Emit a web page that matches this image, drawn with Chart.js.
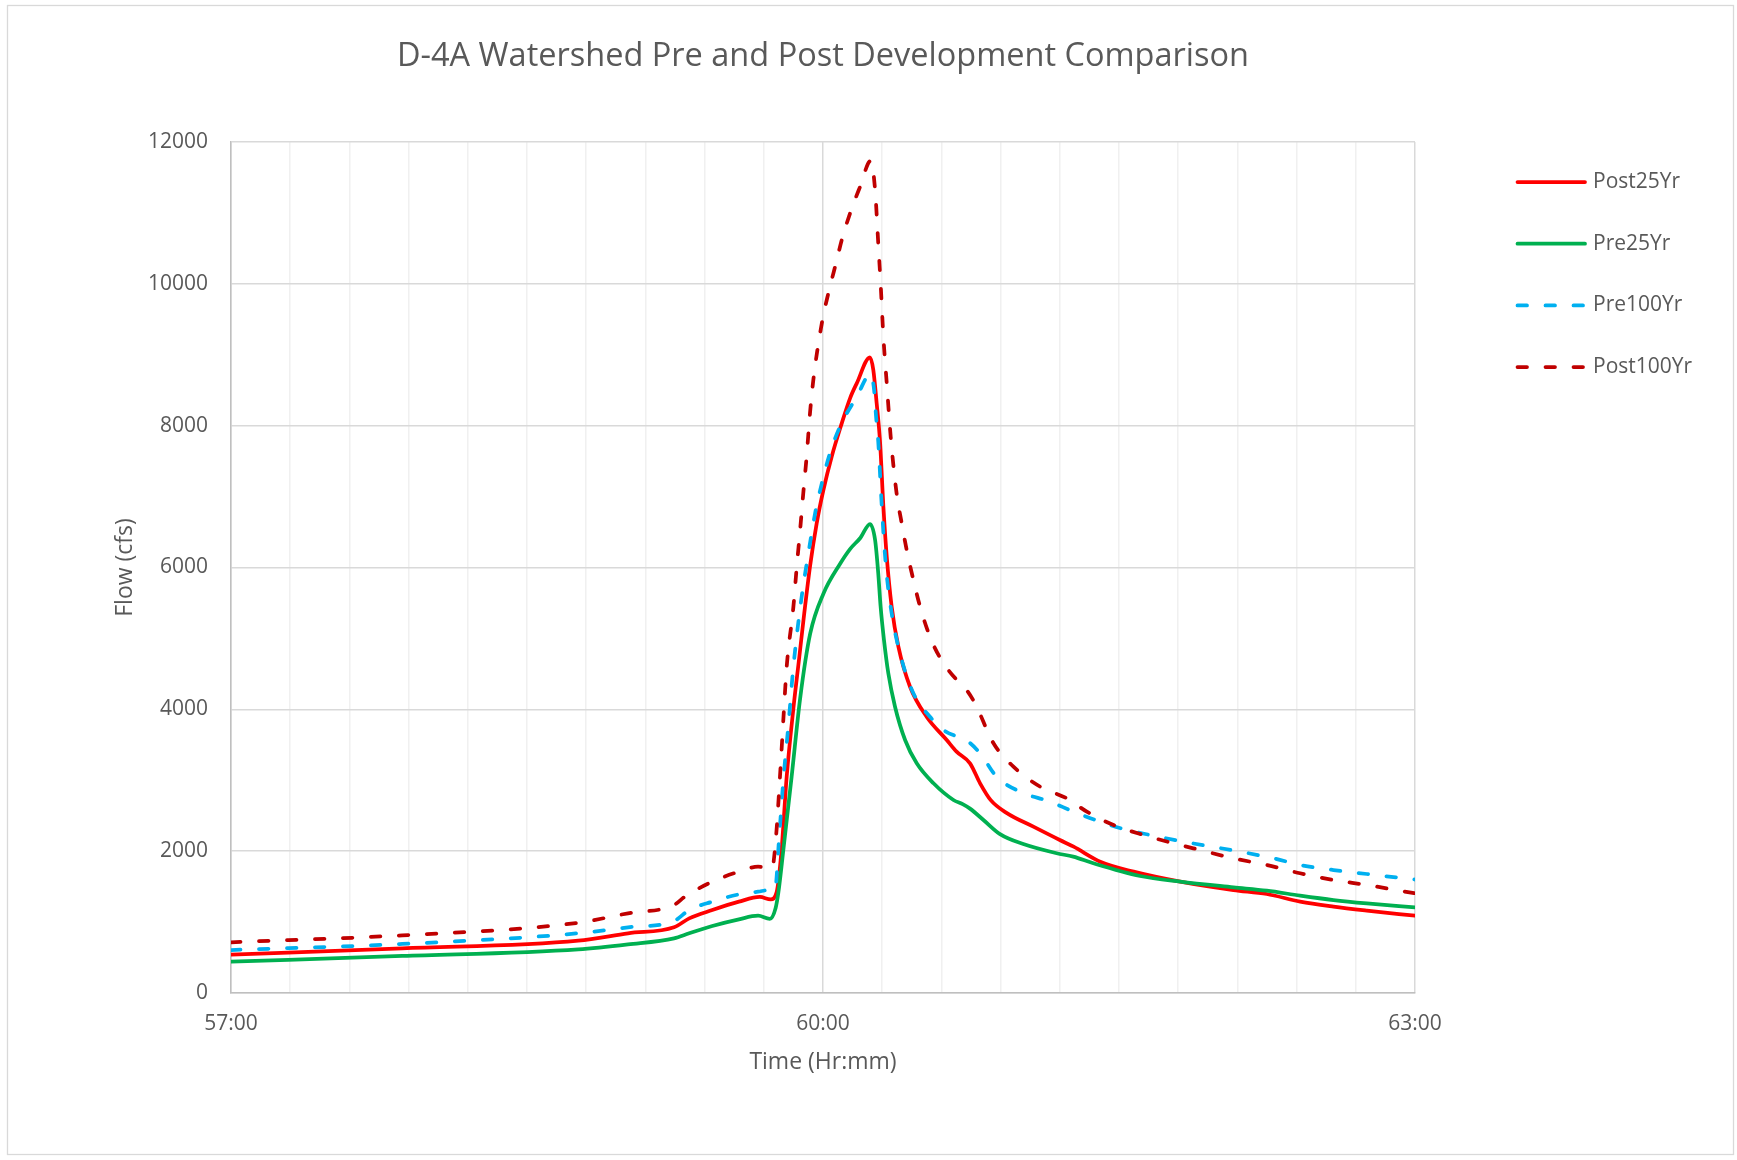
<!DOCTYPE html>
<html>
<head>
<meta charset="utf-8">
<script src="https://cdn.jsdelivr.net/npm/chart.js@4.4.0/dist/chart.umd.min.js"></script>
<style>
html,body{margin:0;padding:0;background:#fff;}
canvas{display:block;}
</style>
</head>
<body>
<canvas id="c" width="1737" height="1160"></canvas>
<script>
// ---- Text ----
const chartTitle = 'D-4A Watershed Pre and Post Development Comparison';
const xAxisTitle = 'Time (Hr:mm)';
const yAxisTitle = 'Flow (cfs)';
const seriesNames = ['Post25Yr', 'Pre25Yr', 'Pre100Yr', 'Post100Yr'];
const xTickLabels = ['57:00', '60:00', '63:00'];
const yTickValues = [0, 2000, 4000, 6000, 8000, 10000, 12000];

// ---- Data (time in decimal hours, flow in cfs) ----
const post25Time = [57.0, 57.868, 58.76, 59.012, 59.245, 59.322, 59.439, 59.574, 59.68, 59.735, 59.765, 59.79, 59.816, 59.85, 59.88, 59.905, 59.934, 59.968, 60.002, 60.044, 60.095, 60.137, 60.171, 60.238, 60.255, 60.272, 60.289, 60.306, 60.323, 60.348, 60.382, 60.441, 60.525, 60.627, 60.677, 60.745, 60.796, 60.85, 60.93, 61.066, 61.2, 61.27, 61.405, 61.574, 61.81, 62.08, 62.249, 62.418, 62.587, 62.756, 63.0];
const post25Flow = [540, 630, 738, 842, 926, 1053, 1170, 1288, 1355, 1320, 1420, 2016, 3050, 4014, 4740, 5354, 6012, 6623, 7093, 7563, 8033, 8386, 8597, 8964, 8785, 8315, 7775, 6858, 6152, 5447, 4883, 4319, 3896, 3568, 3403, 3239, 2957, 2720, 2540, 2345, 2157, 2063, 1852, 1711, 1570, 1452, 1396, 1288, 1217, 1161, 1090];

const pre25Time = [57.0, 57.868, 58.76, 59.012, 59.245, 59.322, 59.439, 59.574, 59.671, 59.73, 59.76, 59.774, 59.799, 59.841, 59.884, 59.935, 60.002, 60.086, 60.137, 60.19, 60.238, 60.264, 60.28, 60.292, 60.309, 60.331, 60.365, 60.416, 60.475, 60.56, 60.661, 60.71, 60.745, 60.813, 60.897, 61.015, 61.184, 61.268, 61.37, 61.607, 61.81, 62.08, 62.249, 62.418, 62.587, 62.756, 63.0];
const pre25Flow = [441, 522, 616, 686, 771, 842, 945, 1039, 1090, 1045, 1200, 1420, 2016, 3050, 4150, 5066, 5631, 6050, 6260, 6420, 6613, 6388, 5918, 5447, 4978, 4508, 4037, 3568, 3239, 2957, 2722, 2660, 2600, 2440, 2240, 2100, 1970, 1923, 1829, 1650, 1570, 1490, 1443, 1373, 1311, 1264, 1208];

const pre100Time = [57.0, 57.868, 58.76, 59.012, 59.245, 59.322, 59.439, 59.574, 59.671, 59.729, 59.757, 59.778, 59.799, 59.824, 59.85, 59.892, 59.926, 59.96, 59.994, 60.035, 60.086, 60.171, 60.242, 60.259, 60.269, 60.28, 60.298, 60.319, 60.348, 60.39, 60.458, 60.542, 60.61, 60.694, 60.728, 60.796, 60.88, 60.998, 61.15, 61.27, 61.405, 61.54, 61.658, 61.827, 62.114, 62.283, 62.418, 62.587, 62.756, 63.0];
const pre100Flow = [606, 691, 842, 926, 1015, 1170, 1288, 1391, 1429, 1452, 1460, 2205, 3003, 3756, 4602, 5589, 6200, 6764, 7187, 7610, 7986, 8409, 8728, 8503, 8127, 7775, 6858, 6012, 5354, 4790, 4226, 3896, 3709, 3600, 3560, 3380, 3050, 2839, 2698, 2557, 2416, 2299, 2228, 2134, 1993, 1899, 1805, 1734, 1678, 1600];

const post100Time = [57.0, 57.868, 58.76, 59.012, 59.245, 59.30, 59.439, 59.574, 59.671, 59.725, 59.742, 59.762, 59.782, 59.802, 59.816, 59.85, 59.867, 59.884, 59.9, 59.917, 59.934, 59.951, 59.994, 60.027, 60.07, 60.095, 60.137, 60.188, 60.242, 60.264, 60.28, 60.292, 60.306, 60.323, 60.343, 60.373, 60.399, 60.424, 60.458, 60.492, 60.542, 60.6, 60.678, 60.72, 60.77, 60.864, 60.965, 61.1, 61.235, 61.337, 61.472, 61.624, 61.776, 61.911, 62.08, 62.249, 62.418, 62.587, 62.756, 63.0];
const post100Flow = [715, 813, 991, 1124, 1241, 1358, 1570, 1711, 1781, 1758, 1760, 2205, 3050, 3991, 4602, 5447, 6012, 6529, 7046, 7563, 8174, 8644, 9443, 9866, 10336, 10618, 10994, 11370, 11737, 11323, 10571, 10007, 9254, 8597, 7845, 7046, 6623, 6247, 5824, 5447, 5024, 4696, 4413, 4300, 4085, 3521, 3192, 2910, 2745, 2557, 2369, 2228, 2111, 2016, 1899, 1805, 1688, 1594, 1523, 1405];

// ---- Build chart ----
const FONT = '"Open Sans", "DejaVu Sans", sans-serif';
const TEXT = '#595959';
const xTickHours = xTickLabels.map(s => parseInt(s.split(':')[0], 10));
const toPoints = (ts, vs) => ts.map((t, i) => ({x: t, y: vs[i]}));

const datasets = [
  {label: seriesNames[0], data: toPoints(post25Time, post25Flow), borderColor: '#FF0000', borderDash: [], order: 4},
  {label: seriesNames[1], data: toPoints(pre25Time, pre25Flow), borderColor: '#00B050', borderDash: [], order: 3},
  {label: seriesNames[2], data: toPoints(pre100Time, pre100Flow), borderColor: '#00B0F0', borderDash: [9.5, 18.5], order: 2},
  {label: seriesNames[3], data: toPoints(post100Time, post100Flow), borderColor: '#C00000', borderDash: [9.5, 18.5], order: 1}
].map(d => Object.assign(d, {fill: false, borderWidth: 3.75, pointRadius: 0, cubicInterpolationMode: 'monotone', borderCapStyle: 'round', borderJoinStyle: 'round'}));

const frame = {
  id: 'frame',
  beforeDraw(chart) {
    const ctx = chart.ctx;
    ctx.save();
    ctx.fillStyle = '#ffffff';
    ctx.fillRect(0, 0, chart.width, chart.height);
    ctx.strokeStyle = '#d9d9d9';
    ctx.lineWidth = 1.3;
    ctx.strokeRect(7.5, 5.5, chart.width - 11, chart.height - 11);
    ctx.restore();
  }
};

const sideLegend = {
  id: 'sideLegend',
  afterDraw(chart) {
    const {ctx, chartArea} = chart;
    ctx.save();
    chart.data.datasets.forEach((ds, i) => {
      const y = 182 + i * 61.7;
      const x0 = chartArea.right + 102.5, x1 = chartArea.right + 170;
      ctx.beginPath();
      ctx.strokeStyle = ds.borderColor;
      ctx.lineWidth = ds.borderWidth;
      ctx.lineCap = 'round';
      ctx.setLineDash(ds.borderDash || []);
      ctx.moveTo(x0, y);
      ctx.lineTo(x1, y);
      ctx.stroke();
      ctx.setLineDash([]);
      ctx.fillStyle = TEXT;
      ctx.font = '21px ' + FONT;
      ctx.textBaseline = 'middle';
      ctx.textAlign = 'left';
      ctx.fillText(ds.label, chartArea.right + 178, y);
    });
    ctx.restore();
  }
};

new Chart(document.getElementById('c'), {
  type: 'line',
  data: {datasets},
  options: {
    responsive: false,
    animation: false,
    events: [],
    layout: {padding: {left: 0, right: 322, top: 0, bottom: 0}},
    plugins: {
      legend: {display: false},
      tooltip: {enabled: false},
      title: {
        display: true,
        text: chartTitle,
        fullSize: false,
        color: TEXT,
        font: {family: FONT, size: 32.5, weight: 'normal'},
        padding: {top: 37.5, bottom: 65.5}
      }
    },
    scales: {
      x: {
        type: 'linear',
        min: 57, max: 63,
        afterFit: s => { s.height = 167; },
        ticks: {
          stepSize: 0.3,
          autoSkip: false,
          maxRotation: 0,
          padding: 18,
          color: TEXT,
          font: {family: FONT, size: 21},
          callback: v => {
            const h = Math.round(v);
            const k = xTickHours.indexOf(h);
            return (Math.abs(v - h) < 1e-6 && k >= 0) ? xTickLabels[k] : '';
          }
        },
        grid: {
          drawTicks: false,
          lineWidth: 1.5,
          color: c => {
            const v = c.tick ? c.tick.value : 0;
            const h = Math.round(v);
            return (Math.abs(v - h) < 1e-6 && xTickHours.includes(h)) ? '#d9d9d9' : '#f0f0f0';
          }
        },
        border: {color: '#bfbfbf', width: 1.5},
        title: {display: true, text: xAxisTitle, color: TEXT, font: {family: FONT, size: 23}, padding: {top: 0, bottom: 84.2}}
      },
      y: {
        min: 0, max: 12000,
        afterFit: s => { s.width = 231; },
        afterBuildTicks: s => { s.ticks = yTickValues.map(v => ({value: v})); },
        ticks: {padding: 23, color: TEXT, font: {family: FONT, size: 21}, callback: v => String(v)},
        grid: {drawTicks: false, lineWidth: 1.5, color: '#d9d9d9'},
        border: {color: '#bfbfbf', width: 1.5},
        title: {display: true, text: yAxisTitle, color: TEXT, font: {family: FONT, size: 23}, padding: {top: 111.2, bottom: 0}}
      }
    }
  },
  plugins: [frame, sideLegend]
});
</script>
</body>
</html>
